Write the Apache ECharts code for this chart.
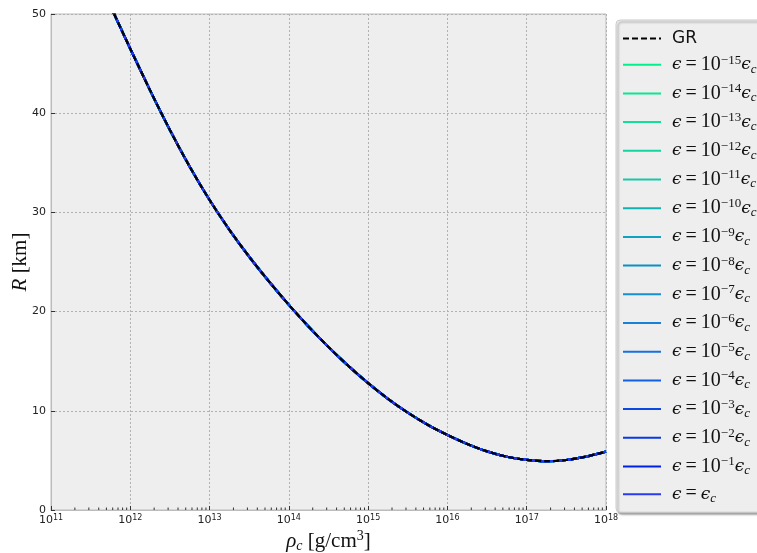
<!DOCTYPE html>
<html>
<head>
<meta charset="utf-8">
<script src="https://cdn.jsdelivr.net/npm/echarts@6/dist/echarts.min.js"></script>
<style>
  html, body { margin: 0; padding: 0; background: #ffffff; }
  #chart { width: 757px; height: 553px; }
</style>
</head>
<body>
<div id="chart"></div>
<script>
// Central density (g/cm^3) and stellar radius (km)
const rhoC = [5.623e11, 1e12, 1.778e12, 3.162e12, 5.623e12,
              1e13, 1.778e13, 3.162e13, 5.623e13,
              1e14, 1.778e14, 3.162e14, 5.623e14,
              1e15, 1.778e15, 3.162e15, 5.623e15,
              1e16, 1.778e16, 3.162e16, 5.623e16,
              1e17, 1.778e17, 3.162e17, 5.623e17, 1e18];
const radiusKm = [50.8, 46.5, 42.3, 38.3, 34.6,
                  31.25, 28.25, 25.53, 23.03,
                  20.68, 18.48, 16.43, 14.53,
                  12.79, 11.21, 9.81, 8.59,
                  7.56, 6.66, 5.91, 5.37,
                  5.06, 4.92, 5.04, 5.38, 5.88];

// Coupling values for each run (exponent of 10, null means eps = eps_c)
const epsExponents = [-15, -14, -13, -12, -11, -10, -9, -8, -7, -6, -5, -4, -3, -2, -1, null];
const epsColors = ['#00f08c', '#06e893', '#0ce09a', '#14d4a0', '#16c8a8', '#12b2b2',
                   '#10a2c0', '#0a90c2', '#1690d2', '#1880d8', '#1670e0', '#1060e0',
                   '#0c48e2', '#0838e8', '#0020e8', '#2a3af2'];

// Axis ticks
const xTickExponents = [11, 12, 13, 14, 15, 16, 17, 18];
const yTicks = [0, 10, 20, 30, 40, 50];

const curve = rhoC.map((r, i) => [r, radiusKm[i]]);

function epsName(e) {
  return e === null ? 'eps_c' : 'eps_' + e;
}

const minorTicks = [];
for (let d = 11; d < 18; d++) {
  for (let k = 2; k <= 9; k++) minorTicks.push(k * Math.pow(10, d));
}

const series = epsExponents.map((e, i) => ({
  name: epsName(e),
  type: 'line',
  data: curve,
  smooth: 0.3,
  symbol: 'none',
  showSymbol: false,
  lineStyle: { color: epsColors[i], width: 2.2 },
  itemStyle: { color: epsColors[i] },
  clip: true
}));

series.push({
  name: 'GR',
  type: 'line',
  data: curve,
  smooth: 0.3,
  symbol: 'none',
  showSymbol: false,
  lineStyle: { color: '#000000', width: 2.2, type: [6, 3] },
  itemStyle: { color: '#000000' },
  clip: true
});

// Log-scale minor ticks along the bottom spine (2..9 in each decade)
series.push({
  type: 'custom',
  silent: true,
  data: minorTicks.map(v => [v, 0]),
  renderItem: function (params, api) {
    const p = api.coord([api.value(0), 0]);
    return {
      type: 'line',
      shape: { x1: p[0], y1: p[1], x2: p[0], y2: p[1] - 2.5 },
      style: { stroke: '#333333', lineWidth: 1 }
    };
  },
  z: 5
});

const serif = 'Liberation Serif';
const legendRich = {
  e: { fontFamily: 'DejaVu Serif', fontStyle: 'italic', fontSize: 17, lineHeight: 22, color: '#111' },
  t: { fontFamily: serif, fontSize: 20, lineHeight: 22, color: '#111' },
  s: { fontFamily: serif, fontSize: 13, lineHeight: 12, verticalAlign: 'top', color: '#111' },
  c: { fontFamily: serif, fontStyle: 'italic', fontSize: 13, lineHeight: 10, verticalAlign: 'bottom', color: '#111' },
  g: { fontFamily: 'DejaVu Sans', fontSize: 17, lineHeight: 22, color: '#111' }
};

const chart = echarts.init(document.getElementById('chart'), null, { renderer: 'canvas' });
chart.setOption({
  animation: false,
  backgroundColor: '#ffffff',
  grid: {
    left: 51, top: 14, right: 151, bottom: 43,
    containLabel: false,
    outerBoundsMode: 'none',
    show: true, backgroundColor: '#eeeeee', borderColor: '#bcbcbc', borderWidth: 1
  },
  xAxis: {
    type: 'log',
    logBase: 10,
    min: Math.pow(10, xTickExponents[0]),
    max: Math.pow(10, xTickExponents[xTickExponents.length - 1]),
    interval: 1,
    name: '{i|ρ}{c|c}{t| [g/cm}{s|3}{t|]}',
    nameLocation: 'middle',
    nameMoveOverlap: false,
    nameGap: 19,
    nameTextStyle: {
      rich: {
        i: { fontFamily: serif, fontStyle: 'italic', fontSize: 21, lineHeight: 24, color: '#111' },
        t: { fontFamily: serif, fontSize: 21, lineHeight: 24, color: '#111' },
        s: { fontFamily: serif, fontSize: 14, lineHeight: 13, verticalAlign: 'top', color: '#111' },
        c: { fontFamily: serif, fontStyle: 'italic', fontSize: 14, lineHeight: 10, verticalAlign: 'bottom', color: '#111' }
      }
    },
    axisLine: { lineStyle: { color: '#bcbcbc', width: 1 } },
    axisTick: { inside: true, length: 4, lineStyle: { color: '#333333' } },
    axisLabel: {
      margin: 4,
      formatter: function (v) {
        const e = Math.round(Math.log10(v));
        return '{b|10}{s|' + e + '}';
      },
      rich: {
        b: { fontFamily: 'DejaVu Sans', fontSize: 11, lineHeight: 13, color: '#222' },
        s: { fontFamily: 'DejaVu Sans', fontSize: 8, lineHeight: 8, verticalAlign: 'top', color: '#222' }
      }
    },
    splitLine: { show: true, lineStyle: { color: '#b2b2b2', type: [2, 2], width: 1 } }
  },
  yAxis: {
    type: 'value',
    min: yTicks[0],
    max: yTicks[yTicks.length - 1],
    interval: 10,
    name: '{i|R}{t| [km]}',
    nameLocation: 'middle',
    nameRotate: 90,
    nameMoveOverlap: false,
    nameGap: 19,
    nameTextStyle: {
      rich: {
        i: { fontFamily: serif, fontStyle: 'italic', fontSize: 21, lineHeight: 24, color: '#111' },
        t: { fontFamily: serif, fontSize: 21, lineHeight: 24, color: '#111' }
      }
    },
    axisLine: { show: true, lineStyle: { color: '#bcbcbc', width: 1 } },
    axisTick: { show: true, inside: true, length: 4, lineStyle: { color: '#333333' } },
    axisLabel: { margin: 5, fontFamily: 'DejaVu Sans', fontSize: 11, color: '#222' },
    splitLine: { show: true, lineStyle: { color: '#b2b2b2', type: [2, 2], width: 1 } }
  },
  legend: {
    orient: 'vertical',
    left: 616,
    top: 20,
    padding: [10, 120, 7, 6],
    itemWidth: 38,
    itemHeight: 14,
    itemGap: 6.7,
    data: ['GR'].concat(epsExponents.map(epsName)),
    backgroundColor: '#eeeeee',
    borderColor: '#cccccc',
    borderWidth: 1,
    borderRadius: 4,
    shadowColor: 'rgba(0,0,0,0.35)',
    shadowOffsetX: 2,
    shadowOffsetY: 2,
    shadowBlur: 2,
    itemStyle: { opacity: 0, borderWidth: 0 },
    inactiveColor: '#999',
    textStyle: { rich: legendRich, padding: [0, 0, 0, 6] },
    formatter: function (name) {
      if (name === 'GR') return '{g|GR}';
      if (name === 'eps_c') return '{e|ϵ}{t|\u2009=\u2009}{e|ϵ}{c|c}';
      const e = name.slice(4);
      return '{e|ϵ}{t|\u2009=\u200910}{s|' + e.replace('-', '−') + '}{e|ϵ}{c|c}';
    }
  },
  series: series
});
</script>
</body>
</html>
